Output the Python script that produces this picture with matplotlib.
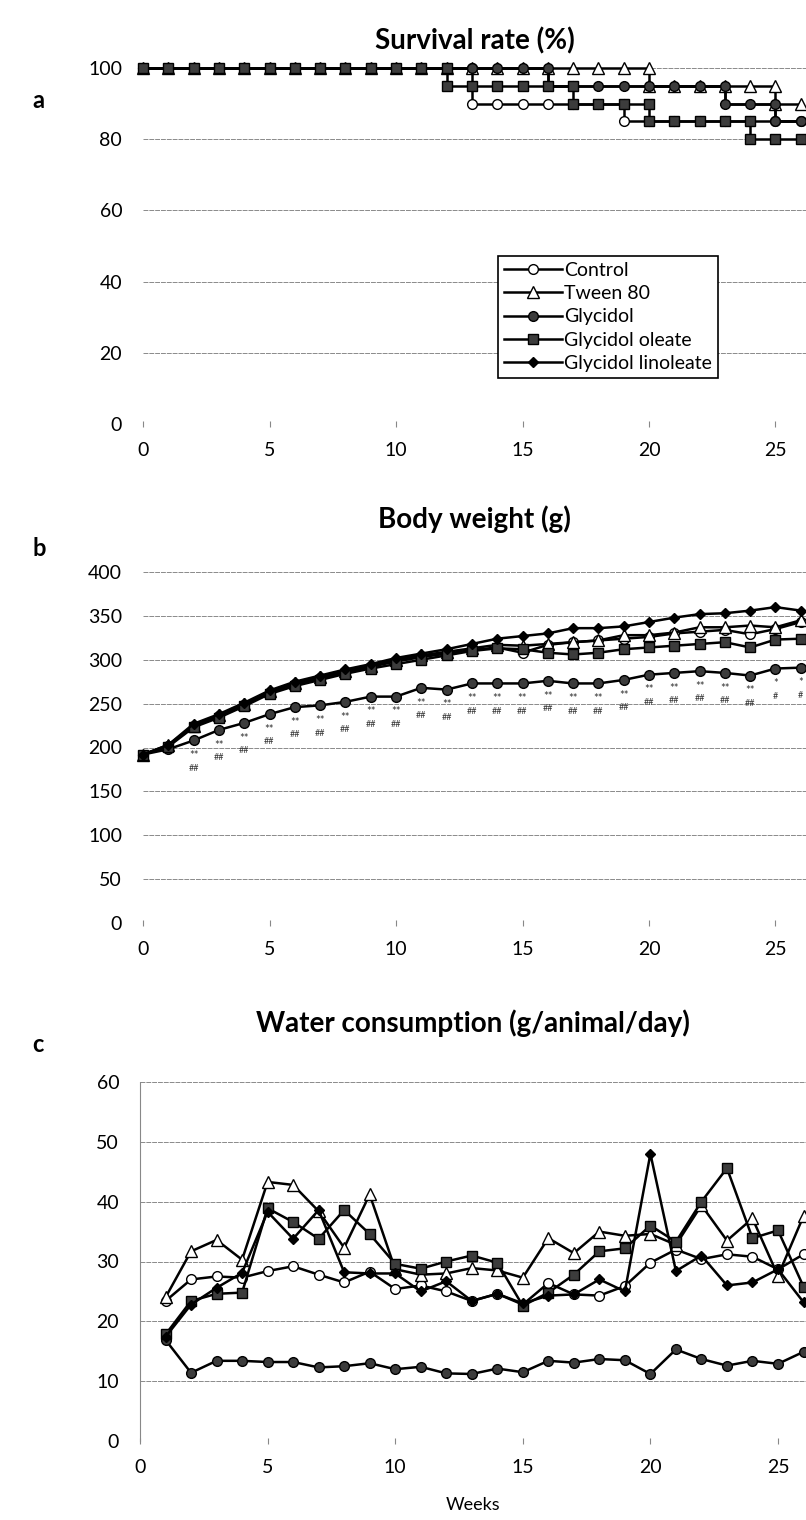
import matplotlib
matplotlib.use("Agg")
import matplotlib.pyplot as plt

plt.rcParams['font.family'] = ['Lato', 'DejaVu Sans']

groups = ["Control", "Tween 80", "Glycidol", "Glycidol oleate", "Glycidol linoleate"]

# ---- a: survival rate (%) - step curves, drop weeks appear twice
surv_ctrl_w = [0, 1, 2, 3, 4, 5, 6, 7, 8, 9, 10, 11, 12, 13, 13, 14, 15, 16, 17, 18, 19, 19, 20, 21, 22, 23, 24, 25, 26]
surv_ctrl_v = [100, 100, 100, 100, 100, 100, 100, 100, 100, 100, 100, 100, 100, 100, 90, 90, 90, 90, 90, 90, 90, 85, 85, 85, 85, 85, 85, 85, 85]
surv_tween_w = [0, 1, 2, 3, 4, 5, 6, 7, 8, 9, 10, 11, 12, 13, 14, 15, 16, 17, 18, 19, 20, 20, 21, 22, 23, 24, 25, 25, 26]
surv_tween_v = [100, 100, 100, 100, 100, 100, 100, 100, 100, 100, 100, 100, 100, 100, 100, 100, 100, 100, 100, 100, 100, 95, 95, 95, 95, 95, 95, 90, 90]
surv_gly_w = [0, 1, 2, 3, 4, 5, 6, 7, 8, 9, 10, 11, 12, 13, 14, 15, 16, 16, 17, 18, 19, 20, 21, 22, 23, 23, 24, 25, 25, 26]
surv_gly_v = [100, 100, 100, 100, 100, 100, 100, 100, 100, 100, 100, 100, 100, 100, 100, 100, 100, 95, 95, 95, 95, 95, 95, 95, 95, 90, 90, 90, 85, 85]
surv_ole_w = [0, 1, 2, 3, 4, 5, 6, 7, 8, 9, 10, 11, 12, 12, 13, 14, 15, 16, 17, 17, 18, 19, 20, 20, 21, 22, 23, 24, 24, 25, 26]
surv_ole_v = [100, 100, 100, 100, 100, 100, 100, 100, 100, 100, 100, 100, 100, 95, 95, 95, 95, 95, 95, 90, 90, 90, 90, 85, 85, 85, 85, 85, 80, 80, 80]
surv_lin_w = [0, 1, 2, 3, 4, 5, 6, 7, 8, 9, 10, 11, 12, 13, 14, 15, 16, 16, 17, 18, 19, 20, 21, 22, 23, 23, 24, 25, 25, 26]
surv_lin_v = [100, 100, 100, 100, 100, 100, 100, 100, 100, 100, 100, 100, 100, 100, 100, 100, 100, 95, 95, 95, 95, 95, 95, 95, 95, 90, 90, 90, 85, 85]

# ---- b: body weight (g), weeks 0-26
bw_weeks = [0, 1, 2, 3, 4, 5, 6, 7, 8, 9, 10, 11, 12, 13, 14, 15, 16, 17, 18, 19, 20, 21, 22, 23, 24, 25, 26]
bw_ctrl = [192, 202, 224, 236, 249, 262, 272, 279, 286, 292, 298, 303, 307, 311, 314, 308, 317, 320, 322, 324, 326, 330, 332, 334, 329, 335, 343]
bw_tween = [192, 203, 225, 237, 250, 264, 274, 280, 287, 293, 300, 305, 309, 313, 317, 316, 318, 320, 322, 328, 328, 331, 337, 337, 339, 337, 345]
bw_gly = [192, 198, 208, 220, 228, 238, 246, 248, 252, 258, 258, 268, 266, 273, 273, 273, 276, 273, 273, 277, 283, 285, 287, 285, 282, 290, 291]
bw_ole = [192, 201, 223, 234, 247, 261, 270, 277, 284, 290, 295, 300, 305, 310, 313, 312, 308, 306, 308, 312, 314, 316, 318, 320, 314, 323, 324]
bw_lin = [192, 203, 227, 238, 251, 265, 275, 282, 289, 295, 302, 307, 312, 318, 324, 327, 330, 336, 336, 338, 343, 348, 352, 353, 356, 360, 356]

# significance marks under the Glycidol curve
sig_weeks = [2, 3, 4, 5, 6, 7, 8, 9, 10, 11, 12, 13, 14, 15, 16, 17, 18, 19, 20, 21, 22, 23, 24, 25, 26]
sig_upper = ["**", "**", "**", "**", "**", "**", "**", "**", "**", "**", "**", "**", "**", "**", "**",
             "**", "**", "**", "**", "**", "**", "**", "**", "*", "*"]
sig_lower = ["##", "##", "##", "##", "##", "##", "##", "##", "##", "##", "##", "##", "##", "##", "##",
             "##", "##", "##", "##", "##", "##", "##", "##", "#", "#"]

# ---- c: water consumption (g/animal/day), weeks 1-26
wc_weeks = [1, 2, 3, 4, 5, 6, 7, 8, 9, 10, 11, 12, 13, 14, 15, 16, 17, 18, 19, 20, 21, 22, 23, 24, 25, 26]
wc_ctrl = [23.4, 27.0, 27.5, 27.3, 28.4, 29.2, 27.8, 26.5, 28.3, 25.4, 26.0, 25.0, 23.4, 24.6, 22.8, 26.4, 24.5, 24.3, 25.9, 29.8, 32.0, 30.4, 31.2, 30.8, 28.7, 31.2]
wc_tween = [24.0, 31.7, 33.6, 30.3, 43.3, 42.8, 38.4, 32.3, 41.2, 28.7, 27.8, 28.0, 28.9, 28.5, 27.3, 33.9, 31.4, 35.0, 34.3, 34.6, 32.8, 39.4, 33.5, 37.2, 27.6, 37.6]
wc_gly = [16.9, 11.4, 13.4, 13.4, 13.2, 13.2, 12.3, 12.5, 13.0, 12.0, 12.4, 11.3, 11.2, 12.1, 11.5, 13.4, 13.1, 13.7, 13.5, 11.2, 15.3, 13.7, 12.6, 13.4, 12.9, 14.9]
wc_ole = [17.8, 23.4, 24.6, 24.8, 38.9, 36.6, 33.8, 38.6, 34.6, 29.6, 28.8, 30.0, 31.0, 29.8, 22.6, 24.8, 27.8, 31.7, 32.2, 36.0, 33.3, 40.0, 45.6, 33.9, 35.2, 25.8]
wc_lin = [17.4, 22.8, 25.6, 28.1, 38.3, 33.8, 38.6, 28.2, 28.0, 28.0, 25.0, 26.7, 23.4, 24.6, 23.0, 24.3, 24.5, 27.0, 25.0, 48.0, 28.4, 31.0, 26.0, 26.5, 28.7, 23.2]

styles = {
    "Control": dict(marker="o", mfc="white", mec="black", ms=7),
    "Tween 80": dict(marker="^", mfc="white", mec="black", ms=8),
    "Glycidol": dict(marker="o", mfc="#3c3c3c", mec="black", ms=7),
    "Glycidol oleate": dict(marker="s", mfc="#3c3c3c", mec="black", ms=7),
    "Glycidol linoleate": dict(marker="D", mfc="black", mec="black", ms=5.5),
}

W, H = 806, 1520
fig = plt.figure(figsize=(W / 100, H / 100), dpi=100)


def make_axes(left_px, top_px, bottom_px):
    return fig.add_axes([left_px / W, 1 - bottom_px / H, (W - left_px) / W, (bottom_px - top_px) / H])


def style(ax, ymax, ystep, xmax, title, title_pad, letter, letter_y):
    ax.set_xlim(0, xmax)
    ax.set_ylim(0, ymax)
    ax.set_yticks(range(0, ymax + 1, ystep))
    ax.set_xticks([0, 5, 10, 15, 20, 25])
    for s in ax.spines.values():
        s.set_visible(False)
    ax.grid(axis="y", color="#8a8a8a", linewidth=0.7, linestyle=(0, (5, 1)))
    ax.set_axisbelow(True)
    ax.tick_params(axis="y", length=0, pad=15, labelsize=14)
    ax.tick_params(axis="x", length=4, direction="inout", color="#888888", pad=11, labelsize=14)
    ax.set_title(title, fontsize=20, fontweight="bold", pad=title_pad)
    fig.text(32 / W, 1 - letter_y / H, letter, fontsize=17, fontweight="bold", va="center")


# ---- panel a
ax1 = make_axes(143, 68, 424)
surv = [(surv_lin_w, surv_lin_v, "Glycidol linoleate", 2),
        (surv_ctrl_w, surv_ctrl_v, "Control", 3),
        (surv_tween_w, surv_tween_v, "Tween 80", 4),
        (surv_gly_w, surv_gly_v, "Glycidol", 5),
        (surv_ole_w, surv_ole_v, "Glycidol oleate", 6)]
handles = {}
for w, v, name, z in surv:
    ln, = ax1.plot(w, v, color="black", lw=1.8, zorder=z, clip_on=False, label=name, **styles[name])
    handles[name] = ln
style(ax1, 100, 20, (W - 143) / 25.3, "Survival rate (%)", 13, "a", 100)
leg = ax1.legend([handles[g] for g in groups], groups, loc="lower left", bbox_to_anchor=(0.535, 0.13),
                 fontsize=14, frameon=True, fancybox=False, edgecolor="black", framealpha=1,
                 handlelength=3.0, handletextpad=0.1, labelspacing=0.32, borderpad=0.3, borderaxespad=0)
leg.get_frame().set_linewidth(1.2)

# ---- panel b
ax2 = make_axes(143, 572, 923)
for vals, name in zip([bw_ctrl, bw_tween, bw_gly, bw_ole, bw_lin], groups):
    ax2.plot(bw_weeks, vals, color="black", lw=1.8, clip_on=False, **styles[name])
style(ax2, 400, 50, (W - 143) / 25.3, "Body weight (g)", 32, "b", 548)
for wk, up, lo in zip(sig_weeks, sig_upper, sig_lower):
    yv = bw_gly[bw_weeks.index(wk)]
    ax2.annotate(up, (wk, yv), xytext=(0, -11), textcoords="offset points", ha="center", va="center",
                 fontsize=8, color="#333333")
    ax2.annotate(lo, (wk, yv), xytext=(0, -20), textcoords="offset points", ha="center", va="center",
                 fontsize=6.5, color="#333333")

# ---- panel c
ax3 = make_axes(140, 1082, 1441)
for vals, name in zip([wc_ctrl, wc_tween, wc_gly, wc_ole, wc_lin], groups):
    ax3.plot(wc_weeks, vals, color="black", lw=1.8, clip_on=False, **styles[name])
style(ax3, 60, 10, (W - 140) / 25.52, "Water consumption (g/animal/day)", 36, "c", 1045)
ax3.spines["left"].set_visible(True)
ax3.spines["left"].set_color("#888888")
ax3.spines["left"].set_linestyle((0, (5, 1)))
ax3.spines["left"].set_linewidth(0.8)
ax3.set_xlabel("Weeks", fontsize=13, labelpad=15)

fig.savefig("out.png", dpi=100)
